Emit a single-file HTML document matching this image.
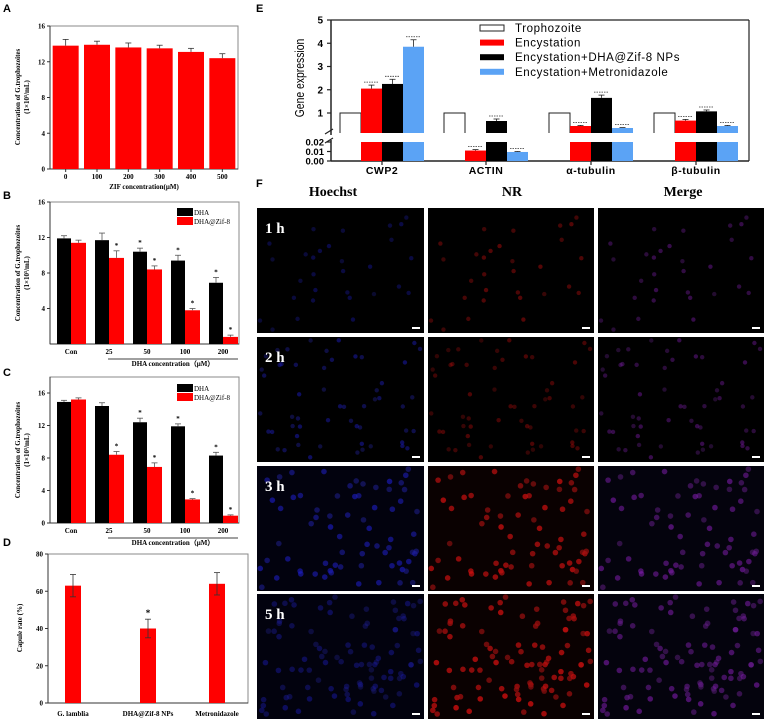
<!DOCTYPE html>
<html><head><meta charset="utf-8">
<style>
html,body{margin:0;padding:0;background:#fff;}
svg{display:block;}
.ser{font-family:"Liberation Serif",serif;font-weight:bold;}
.san{font-family:"Liberation Sans",sans-serif;}
</style></head>
<body>
<svg id="fig" width="767" height="727" viewBox="0 0 767 727" xmlns="http://www.w3.org/2000/svg">
<g id="gA"></g>
<g id="gB"></g>
<g id="gC"></g>
<g id="gD"></g>
<g id="gE"></g>
<g id="gF"></g>
</svg>
<script>
// ---- Panel A data
const aCats = ["0","100","200","300","400","500"];
const aVals = [13.8,13.9,13.6,13.5,13.1,12.4];
const aErr = [0.7,0.4,0.5,0.35,0.4,0.5];
const aTicks = [0,4,8,12,16];
// ---- Panel B data
const bCats = ["Con","25","50","100","200"];
const bDHA = [11.9,11.7,10.4,9.4,6.9];
const bDHAerr = [0.3,0.8,0.4,0.6,0.6];
const bZif = [11.4,9.7,8.4,3.8,0.8];
const bZiferr = [0.3,0.8,0.4,0.2,0.2];
const bStarD = [false,false,true,true,true];
const bStarZ = [false,true,true,true,true];
const bTicks = [4,8,12,16];
// ---- Panel C data
const cCats = ["Con","25","50","100","200"];
const cDHA = [14.9,14.4,12.4,11.9,8.3];
const cDHAerr = [0.2,0.4,0.5,0.3,0.4];
const cZif = [15.2,8.4,6.9,2.9,0.9];
const cZiferr = [0.2,0.4,0.5,0.1,0.1];
const cStarD = [false,false,true,true,true];
const cStarZ = [false,true,true,true,true];
const cTicks = [0,4,8,12,16];
// ---- Panel D data
const dCats = ["G. lamblia","DHA@Zif-8 NPs","Metronidazole"];
const dVals = [63,40,64];
const dErr = [6,5,6];
const dTicks = [0,20,40,60,80];
// ---- Panel E data
const eCats = ["CWP2","ACTIN","α-tubulin","β-tubulin"];
const eSeries = ["Trophozoite","Encystation","Encystation+DHA@Zif-8 NPs","Encystation+Metronidazole"];
const eTroph = [1,1,1,1];
const eEnc = [2.05,0.011,0.35,0.62];
const eDHA = [2.25,0.6,1.65,1.07];
const eMet = [3.85,0.0095,0.25,0.35];
const eErrEnc = [0.15,0.001,0.03,0.06];
const eErrDHA = [0.2,0.1,0.12,0.06];
const eErrMet = [0.3,0.0005,0.02,0.03];
const eTicksUp = [1,2,3,4,5];
const eTicksLow = ["0.00","0.01","0.02"];

const NS="http://www.w3.org/2000/svg";
function mk(parent,tag,attrs,text){const e=document.createElementNS(NS,tag);for(const k in attrs)e.setAttribute(k,attrs[k]);if(text!==undefined)e.textContent=text;parent.appendChild(e);return e;}

function frame(g,x0,x1,yTop,yBot){
  const r=mk(g,'rect',{x:x0,y:yTop,width:x1-x0,height:yBot-yTop,fill:'none',stroke:'#888','stroke-width':1});
  
  
  const l=mk(g,'line',{x1:x0,y1:yTop,x2:x0,y2:yBot,stroke:'#333','stroke-width':1});
  
  
  const b=mk(g,'line',{x1:x0,y1:yBot,x2:x1,y2:yBot,stroke:'#333','stroke-width':1});
  
  
}
function yTicksF(g,x0,ticks,ys,fs){
  ticks.forEach(t=>{const y=ys(t);
    mk(g,'line',{x1:x0-3,y1:y,x2:x0,y2:y,stroke:'#333'});
    const tx=mk(g,'text',{x:x0-5,y:y+2.5,'text-anchor':'end','font-size':fs||7,class:'ser'},t);
    
    
  });
}
function bar(g,x,w,y0,y1,fill,name){
  const r=mk(g,'rect',{x:x,y:Math.min(y0,y1),width:w,height:Math.abs(y1-y0),fill:fill});
  
  
  return r;
}
function err(g,cx,yv,ye,col){
  mk(g,'line',{x1:cx,y1:yv,x2:cx,y2:ye,stroke:col||'#333','stroke-width':0.8});
  mk(g,'line',{x1:cx-3,y1:ye,x2:cx+3,y2:ye,stroke:col||'#333','stroke-width':0.8});
}
function panelLabel(g,x,y,t){
  const e=mk(g,'text',{x:x,y:y,'font-size':11,'font-weight':'bold',class:'san'},t);
  
  
}
function yTitle(g,x,cy,lines,fs){
  const t=mk(g,'text',{transform:`translate(${x},${cy}) rotate(-90)`,'text-anchor':'middle','font-size':fs||7,class:'ser'});
  
  
  lines.forEach((l,i)=>mk(t,'tspan',{x:0,dy:i?9:0},l));
}

// ---------- Panel A
(function(){
  const g=document.getElementById('gA');
  panelLabel(g,3,12,'A');
  const x0=50,x1=238,yT=26,yB=169,max=16;
  const ys=v=>yB-(yB-yT)*v/max;
  frame(g,x0,x1,yT,yB);
  yTicksF(g,x0,aTicks,ys);
  const step=(x1-x0)/aCats.length;
  aCats.forEach((c,i)=>{
    const cx=x0+step*(i+0.5);
    bar(g,cx-13,26,ys(0),ys(aVals[i]),'#ff0000','bar-'+c);
    err(g,cx,ys(aVals[i]),ys(aVals[i]+aErr[i]));
    mk(g,'line',{x1:cx,y1:yB,x2:cx,y2:yB+3,stroke:'#333'});
    const t=mk(g,'text',{x:cx,y:179,'text-anchor':'middle','font-size':7,class:'ser'},c);
    
    
  });
  const xt=mk(g,'text',{x:144,y:189,'text-anchor':'middle','font-size':7,class:'ser'},'ZIF concentration(μM)');
  
  
  yTitle(g,20,97,['Concentration of G.trophozoites','(1×10⁵/mL)']);
})();

// ---------- Panels B & C (grouped)
function grouped(gid,label,labY,yT0,yT,yB,max,cats,dha,dhaE,zif,zifE,sD,sZ,ticks,legY){
  const g=document.getElementById(gid);
  panelLabel(g,3,labY,label);
  const x0=50,x1=239;
  const ys=v=>yB-(yB-yT)*v/max;
  frame(g,x0,x1,yT0,yB);
  yTicksF(g,x0,ticks,ys);
  const centers=[71,109,147,185,223];
  cats.forEach((c,i)=>{
    const cx=centers[i];
    bar(g,cx-14,14,ys(0),ys(dha[i]),'#000','bar-dha-'+c);
    bar(g,cx,15,ys(0),ys(zif[i]),'#ff0000','bar-dha-zif8-'+c);
    err(g,cx-7,ys(dha[i]),ys(dha[i]+dhaE[i]),'#555');
    err(g,cx+7.5,ys(zif[i]),ys(zif[i]+zifE[i]),'#555');
    if(sD[i]) mk(g,'text',{x:cx-7,y:ys(dha[i]+dhaE[i])-3,'text-anchor':'middle','font-size':7,class:'ser'},'*');
    if(sZ[i]) mk(g,'text',{x:cx+7.5,y:ys(zif[i]+zifE[i])-3,'text-anchor':'middle','font-size':7,class:'ser'},'*');
    const t=mk(g,'text',{x:cx,y:yB+10,'text-anchor':'middle','font-size':7,class:'ser'},c);
    
    
  });
  mk(g,'line',{x1:108,y1:yB+15,x2:238,y2:yB+15,stroke:'#000','stroke-width':0.8});
  const xt=mk(g,'text',{x:173,y:yB+22,'text-anchor':'middle','font-size':7,class:'ser'},'DHA concentration（μM）');
  
  
  yTitle(g,20,(yT0+yB)/2,['Concentration of G.trophozoites','(1×10⁵/mL)']);
  const lg=mk(g,'g',{});
  
  
  mk(lg,'rect',{x:177,y:legY,width:16,height:8,fill:'#000'});
  mk(lg,'text',{x:194,y:legY+7,'font-size':7,'font-family':'Liberation Serif,serif'},'DHA');
  mk(lg,'rect',{x:177,y:legY+9,width:16,height:8,fill:'#ff0000'});
  mk(lg,'text',{x:194,y:legY+16,'font-size':7,'font-family':'Liberation Serif,serif'},'DHA@Zif-8');
}
grouped('gB','B',199,202,202,344,16,bCats,bDHA,bDHAerr,bZif,bZiferr,bStarD,bStarZ,bTicks,208);
grouped('gC','C',376,377,393,523,16,cCats,cDHA,cDHAerr,cZif,cZiferr,cStarD,cStarZ,cTicks,384);

// ---------- Panel D
(function(){
  const g=document.getElementById('gD');
  panelLabel(g,3,546,'D');
  const x0=48,x1=248,yT=554,yB=703,max=80;
  const ys=v=>yB-(yB-yT)*v/max;
  frame(g,x0,x1,yT,yB);
  yTicksF(g,x0,dTicks,ys);
  const centers=[73,148,217];
  dCats.forEach((c,i)=>{
    const cx=centers[i];
    bar(g,cx-8,16,ys(0),ys(dVals[i]),'#ff0000','bar-'+c.replace(/[^a-z0-9]+/gi,'-').toLowerCase());
    err(g,cx,ys(dVals[i]-dErr[i]),ys(dVals[i]+dErr[i]));
    mk(g,'line',{x1:cx-3,y1:ys(dVals[i]-dErr[i]),x2:cx+3,y2:ys(dVals[i]-dErr[i]),stroke:'#333','stroke-width':0.8});
    const t=mk(g,'text',{x:cx,y:716,'text-anchor':'middle','font-size':7,class:'ser'},c);
    
    
  });
  mk(g,'text',{x:148,y:ys(dVals[1]+dErr[1])-3,'text-anchor':'middle','font-size':9,class:'ser','font-weight':'normal'},'*');
  yTitle(g,22,628,['Capule rate (%)']);
})();

// ---------- Panel E
(function(){
  const g=document.getElementById('gE');
  panelLabel(g,256,12,'E');
  const x0=331,x1=749,yT=20,yUpB=133,yLowT=142,yB=161;
  const ysU=v=>113-(113-20)*(v-1)/4;
  const ysL=v=>yB-(yB-yLowT)*v/0.02;
  mk(g,'line',{x1:x0,y1:yT,x2:x1,y2:yT,stroke:'#222','stroke-width':1.2});
  mk(g,'line',{x1:x1,y1:yT,x2:x1,y2:yB,stroke:'#222','stroke-width':1.2});
  mk(g,'line',{x1:x0,y1:yB,x2:x1,y2:yB,stroke:'#222','stroke-width':1.5});
  mk(g,'line',{x1:x0,y1:yT,x2:x0,y2:yUpB+2,stroke:'#222','stroke-width':1.5});
  mk(g,'line',{x1:x0,y1:yLowT-2,x2:x0,y2:yB,stroke:'#222','stroke-width':1.5});
  mk(g,'line',{x1:x0-6,y1:yUpB+1,x2:x0+2,y2:yUpB-4,stroke:'#222','stroke-width':1.2});
  mk(g,'line',{x1:x0-6,y1:yLowT+1,x2:x0+2,y2:yLowT-4,stroke:'#222','stroke-width':1.2});
  eTicksUp.forEach(t=>{const y=ysU(t);
    mk(g,'line',{x1:x0-4,y1:y,x2:x0,y2:y,stroke:'#222','stroke-width':1.2});
    const tx=mk(g,'text',{x:x0-8,y:y+3.5,'text-anchor':'end','font-size':10,'font-weight':'bold',class:'san'},t);
    
    
  });
  eTicksLow.forEach(t=>{const y=ysL(parseFloat(t));
    mk(g,'line',{x1:x0-4,y1:y,x2:x0,y2:y,stroke:'#222','stroke-width':1.2});
    const tx=mk(g,'text',{x:x0-7,y:y+3.5,'text-anchor':'end','font-size':9.5,'font-weight':'bold',class:'san'},t);
    
    
  });
  const yt=mk(g,'text',{transform:'translate(304,78) rotate(-90) scale(0.8,1)','text-anchor':'middle','font-size':13,class:'san'},'Gene expression');
  
  
  const starts=[340,444,549,654], bw=21;
  function yUp(v){return v>=1?ysU(v):yUpB-(yUpB-113)*v;}
  function topOf(v,e){const t=v+e; if(v<=0.02) return ysL(t); return yUp(t);}
  function ebar(xl,v,fill,name,e){
    if(v>0.02){
      const yv=yUp(v);
      bar(g,xl,bw,yUpB,yv,fill,name+'-upper');
      bar(g,xl,bw,yB,yLowT,fill,name+'-lower');
      err(g,xl+bw/2,yv,yUp(v+e),'#222');
    } else {
      const yv=ysL(v);
      bar(g,xl,bw,yB,yv,fill,name);
      err(g,xl+bw/2,yv,ysL(v+e),'#222');
    }
  }
  function stars(x,y){mk(g,'line',{x1:x+3,y1:y-3,x2:x+bw-3,y2:y-3,stroke:'#333','stroke-width':0.8,'stroke-dasharray':'1.5,1'});}
  eCats.forEach((c,i)=>{
    const xs=starts[i];
    const p=mk(g,'path',{d:`M${xs},${yUpB} V${ysU(eTroph[i])} H${xs+bw} V${yUpB}`,fill:'none',stroke:'#222','stroke-width':1});
    
    
    ebar(xs+bw,eEnc[i],'#ff0000','bar-encystation-'+i,eErrEnc[i]);
    ebar(xs+2*bw,eDHA[i],'#000000','bar-encystation-dha-'+i,eErrDHA[i]);
    ebar(xs+3*bw,eMet[i],'#5ba3f5','bar-encystation-metronidazole-'+i,eErrMet[i]);
    stars(xs+bw,topOf(eEnc[i],eErrEnc[i]));
    stars(xs+2*bw,topOf(eDHA[i],eErrDHA[i]));
    stars(xs+3*bw,topOf(eMet[i],eErrMet[i]));
    mk(g,'line',{x1:xs+2*bw,y1:yB,x2:xs+2*bw,y2:yB+4,stroke:'#222','stroke-width':1.2});
    const t=mk(g,'text',{x:xs+2*bw,y:174,'text-anchor':'middle','font-size':10.5,'font-weight':'bold',class:'san','letter-spacing':'0.5'},c);
    
    
  });
  const lg=mk(g,'g',{});
  
  
  const cols=['none','#ff0000','#000000','#5ba3f5'];
  eSeries.forEach((s,i)=>{
    const y=25+i*14.6;
    mk(lg,'rect',{x:480,y:y,width:24,height:6,fill:cols[i]==='none'?'#fff':cols[i],stroke:cols[i]==='none'?'#222':'none'});
    const t=mk(lg,'text',{x:515,y:y+7,'font-size':11.5,class:'san','letter-spacing':'0.6'},s);
    
    
  });
})();

// ---------- Panel F (micrographs)
(function(){
  const g=document.getElementById('gF');
  panelLabel(g,256,187,'F');
  const heads=[['Hoechst',333],['NR',512],['Merge',683]];
  heads.forEach(h=>{const t=mk(g,'text',{x:h[1],y:196,'text-anchor':'middle','font-size':14,class:'ser'},h[0]);
    
    });
  const cols=[[257,424],[428,594],[598,764]];
  const rows=[[208,333],[337,462],[466,591],[594,719]];
  const times=['1 h','2 h','3 h','5 h'];
  const counts=[30,55,70,100];
  const inten=[[0.35,0.4,0.4],[0.45,0.35,0.4],[0.6,0.7,0.55],[0.4,0.75,0.55]];
  let seed=7;
  function rnd(){seed=(seed*16807)%2147483647;return seed/2147483647;}
  rows.forEach((r,ri)=>{
    const pts=[];for(let k=0;k<counts[ri];k++)pts.push([rnd(),rnd(),0.6+rnd()*0.4]);
    cols.forEach((c,ci)=>{
      const w=c[1]-c[0],h=r[1]-r[0];
      const bg=ri>=2?(ci===0?'#02020e':ci===1?'#0a0101':'#04030d'):'#000';
      const rc=mk(g,'rect',{x:c[0],y:r[0],width:w,height:h,fill:bg});
      
      
      const a=inten[ri][ci];
      pts.forEach(p=>{
        let col;
        if(ci===0) col=`rgba(30,30,${Math.round(210*p[2])},${a})`;
        else if(ci===1) col=`rgba(${Math.round(220*p[2])},15,15,${a})`;
        else col=`rgba(${Math.round(140*p[2])},30,${Math.round(190*p[2])},${a})`;
        mk(g,'circle',{cx:c[0]+3+p[0]*(w-6),cy:r[0]+3+p[1]*(h-6),r:ri>=2?2.8:2.2,fill:col});
      });
      mk(g,'rect',{x:c[1]-12,y:r[1]-6,width:8,height:2,fill:'#fff'});
    });
    const t=mk(g,'text',{x:265,y:r[0]+25,'font-size':15,class:'ser',fill:'#fff'},times[ri]);
    
    
  });
})();
</script>
</body></html>
